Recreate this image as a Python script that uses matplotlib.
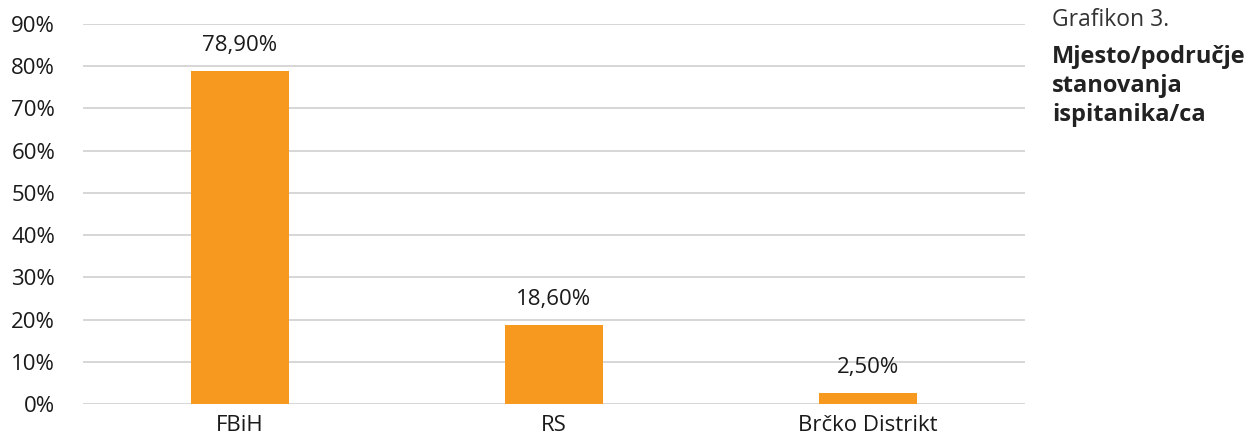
import matplotlib
matplotlib.use("Agg")
import matplotlib.pyplot as plt

categories = ["FBiH", "RS", "Brčko Distrikt"]
values = [78.9, 18.6, 2.5]
value_labels = ["78,90%", "18,60%", "2,50%"]
yticks = [0, 10, 20, 30, 40, 50, 60, 70, 80, 90]
ytick_labels = [f"{t}%" for t in yticks]

plt.rcParams['font.family'] = ['Open Sans', 'DejaVu Sans']
text_color = "#1a1a1a"
bar_color = "#F7991F"

fig = plt.figure(figsize=(12.53, 4.42), dpi=100)
ax = fig.add_axes([83/1253, 38/442, (1025-83)/1253, (404-24)/442])

x = range(len(categories))
bars = ax.bar(x, values, width=0.31, color=bar_color, zorder=3)
ax.set_xlim(-0.5, len(categories) - 0.5)
ax.set_ylim(0, 90)
ax.set_yticks(yticks)
ax.set_yticklabels(ytick_labels, fontsize=16, color=text_color)
ax.set_xticks(list(x))
ax.set_xticklabels(categories, fontsize=16, color=text_color)
ax.tick_params(axis='both', length=0)
ax.tick_params(axis='y', pad=20)
ax.tick_params(axis='x', pad=8)
ax.grid(axis='y', color="#d0d0d0", linewidth=1.2, zorder=0)
for s in ax.spines.values():
    s.set_visible(False)

for xi, v, lab in zip(x, values, value_labels):
    ax.annotate(lab, (xi, v), xytext=(0, 11), textcoords='offset points',
                ha='center', va='bottom', fontsize=16, color=text_color)

fig.text(1052/1253, 1 - 8/442, "Grafikon 3.", fontsize=16.5, color="#333333",
         ha='left', va='top')
fig.text(1052/1253, 1 - 45/442, "Mjesto/područje\nstanovanja\nispitanika/ca",
         fontsize=17, fontweight='bold', color="#222222", ha='left', va='top',
         linespacing=1.27)

fig.savefig("out.png", dpi=100)
